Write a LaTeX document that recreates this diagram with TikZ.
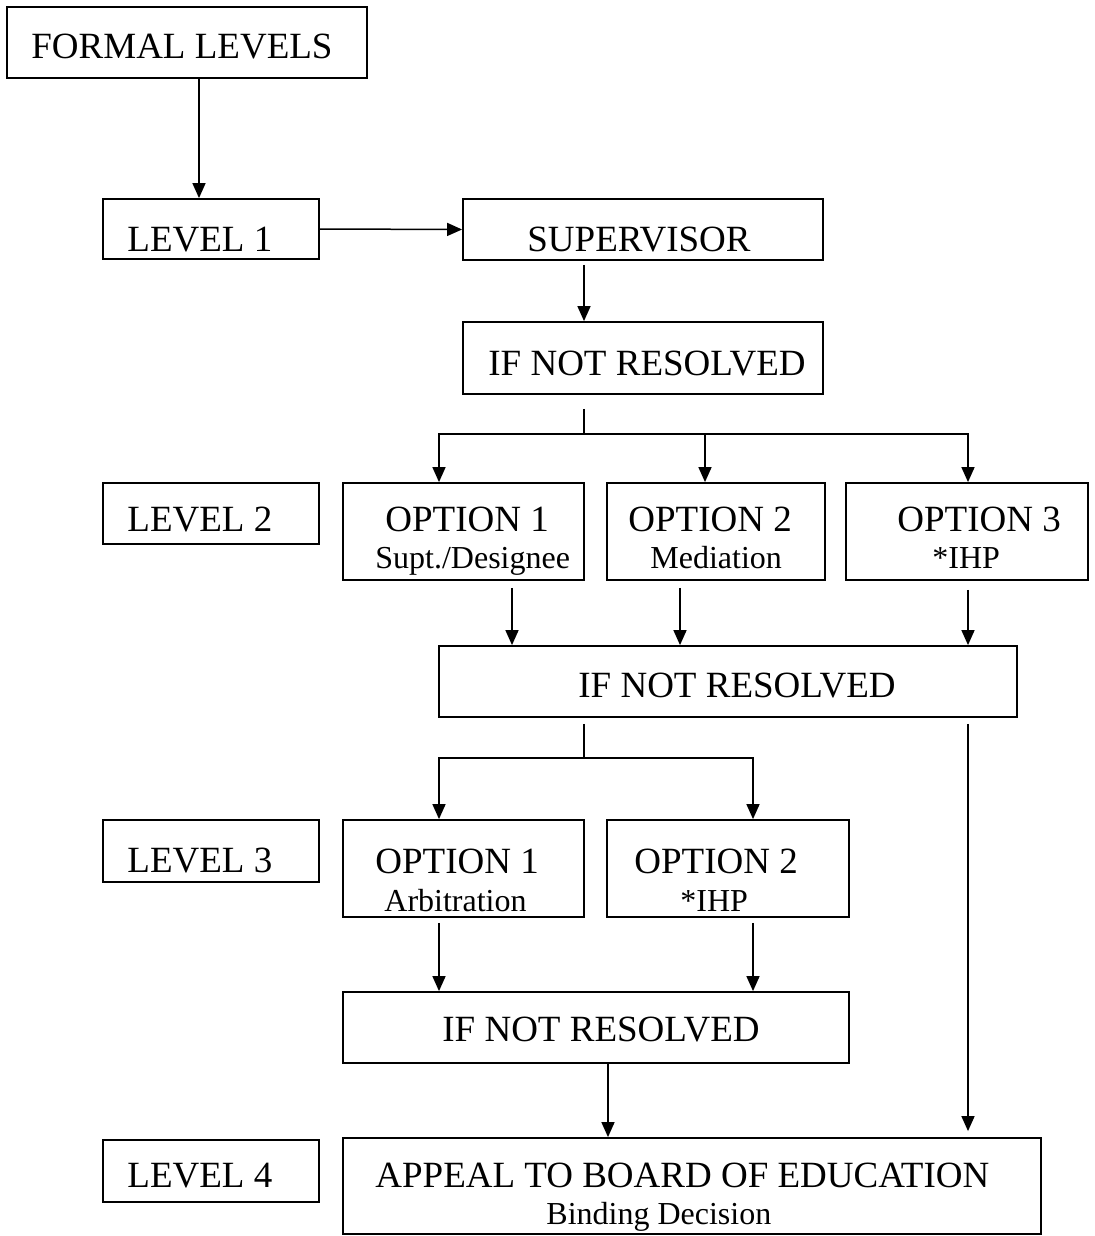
\documentclass[tikz,border=0pt]{standalone}
\usepackage{fontspec}
\setmainfont{Liberation Serif}
\usetikzlibrary{arrows.meta}
\begin{document}
\begin{tikzpicture}[x=0.5pt,y=-0.5pt,
  box/.style={draw=black, line width=0.9pt, inner sep=0pt, rectangle},
  big/.style={inner sep=0pt, anchor=base west, font=\fontsize{18.5}{22}\selectfont},
  small/.style={inner sep=0pt, anchor=base west, font=\fontsize{16}{19}\selectfont},
  arr/.style={line width=0.75pt, -{Triangle[length=7.5pt,width=6.5pt]}},
  ln/.style={line width=0.75pt}]
\useasboundingbox (0,0) rectangle (1095,1236);
% boxes
\node[box, minimum width=180pt, minimum height=35.5pt] (formal) at (187,42.5) {};
\node[box, minimum width=108pt, minimum height=30pt] (lvl1) at (211,229) {};
\node[box, minimum width=180pt, minimum height=30.5pt] (sup) at (643,229.5) {};
\node[box, minimum width=180pt, minimum height=36pt] (inr1) at (643,358) {};
\node[box, minimum width=108pt, minimum height=30.5pt] (lvl2) at (211,513.5) {};
\node[box, minimum width=120.5pt, minimum height=48.5pt] (o21) at (463.5,531.5) {};
\node[box, minimum width=109pt, minimum height=48.5pt] (o22) at (716,531.5) {};
\node[box, minimum width=121pt, minimum height=48.5pt] (o23) at (967,531.5) {};
\node[box, minimum width=289pt, minimum height=35.5pt] (inr2) at (728,681.5) {};
\node[box, minimum width=108pt, minimum height=31pt] (lvl3) at (211,851) {};
\node[box, minimum width=120.5pt, minimum height=48.5pt] (o31) at (463.5,868.5) {};
\node[box, minimum width=121pt, minimum height=48.5pt] (o32) at (728,868.5) {};
\node[box, minimum width=253pt, minimum height=35.5pt] (inr3) at (596,1027.5) {};
\node[box, minimum width=108pt, minimum height=31pt] (lvl4) at (211,1171) {};
\node[box, minimum width=349pt, minimum height=48pt] (appeal) at (692,1186) {};
% texts
\node[big] (tformal) at (31,59) {FORMAL LEVELS};
\node[big] (tlvl1) at (127,251) {LEVEL 1};
\node[big] (tsup) at (527,251) {SUPERVISOR};
\node[big] (tinr1) at (488,375) {IF NOT RESOLVED};
\node[big] (tlvl2) at (127,531) {LEVEL 2};
\node[big] (to21) at (385,531) {OPTION 1};
\node[small] (so21) at (375,568) {Supt./Designee};
\node[big] (to22) at (628,531) {OPTION 2};
\node[small] (so22) at (650,568) {Mediation};
\node[big] (to23) at (897,531) {OPTION 3};
\node[small] (so23) at (932,568) {*IHP};
\node[big] (tinr2) at (578,697) {IF NOT RESOLVED};
\node[big] (tlvl3) at (127,872) {LEVEL 3};
\node[big] (to31) at (375,873) {OPTION 1};
\node[small] (so31) at (384,911) {Arbitration};
\node[big] (to32) at (634,873) {OPTION 2};
\node[small] (so32) at (680,911) {*IHP};
\node[big] (tinr3) at (442,1041) {IF NOT RESOLVED};
\node[big] (tlvl4) at (127,1187) {LEVEL 4};
\node[big] (tappeal) at (375,1187) {APPEAL TO BOARD OF EDUCATION};
\node[small] (sappeal) at (546,1224) {Binding Decision};
% columns and junctions
\coordinate (cA) at (199,0);
\coordinate (c439) at (439,0);
\coordinate (c512) at (512,0);
\coordinate (c608) at (608,0);
\coordinate (c680) at (680,0);
\coordinate (c705) at (705,0);
\coordinate (c753) at (753,0);
\coordinate (c968) at (968,0);
\coordinate (j1) at (584,434);
\coordinate (j2) at (584,758);
% connectors
\draw[arr] (formal.south -| cA) -- (lvl1.north -| cA);
\draw[arr] (lvl1.east) -- (sup.west);
\draw[arr, shorten <=2pt] (sup.south -| j1) -- (inr1.north -| j1);
\draw[ln, shorten <=7pt] (inr1.south -| j1) -- (j1);
\draw[arr] (j1) -| (o21.north -| c439);
\draw[arr] (j1) -| (o23.north -| c968);
\draw[arr] (c705 |- j1) -- (o22.north -| c705);
\draw[arr, shorten <=3.5pt] (o21.south -| c512) -- (inr2.north -| c512);
\draw[arr, shorten <=3.5pt] (o22.south -| c680) -- (inr2.north -| c680);
\draw[arr, shorten <=4.5pt] (o23.south -| c968) -- (inr2.north -| c968);
\draw[ln, shorten <=3pt] (inr2.south -| j2) -- (j2);
\draw[arr] (j2) -| (o31.north -| c439);
\draw[arr] (j2) -| (o32.north -| c753);
\draw[arr, shorten <=3pt, shorten >=3pt] (inr2.south -| c968) -- (appeal.north -| c968);
\draw[arr, shorten <=2.5pt] (o31.south -| c439) -- (inr3.north -| c439);
\draw[arr, shorten <=2.5pt] (o32.south -| c753) -- (inr3.north -| c753);
\draw[arr] (inr3.south -| c608) -- (appeal.north -| c608);
\end{tikzpicture}
\end{document}
